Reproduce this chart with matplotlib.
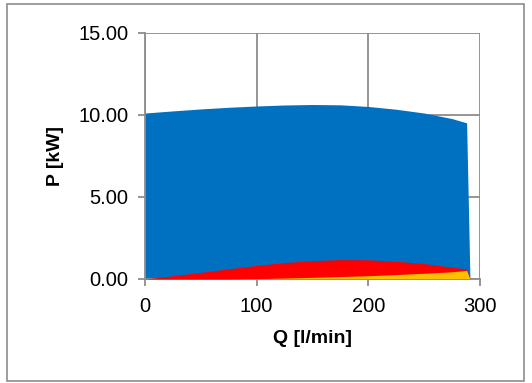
import matplotlib
matplotlib.use("Agg")
import matplotlib.pyplot as plt
from matplotlib.patches import Rectangle

plt.rcParams['font.family'] = ['Liberation Sans', 'DejaVu Sans']

q = [0, 25, 50, 75, 100, 125, 150, 175, 200, 225, 250, 275, 288, 291]
p_blue = [10.12, 10.25, 10.37, 10.47, 10.55, 10.61, 10.64, 10.62, 10.52, 10.35, 10.12, 9.78, 9.52, 0.0]
p_red = [0.0, 0.2, 0.4, 0.62, 0.83, 1.0, 1.12, 1.18, 1.17, 1.08, 0.94, 0.72, 0.61, 0.0]
p_yellow = [0.0, 0.0, 0.0, 0.0, 0.02, 0.06, 0.1, 0.15, 0.2, 0.27, 0.35, 0.44, 0.52, 0.0]

x_ticks = [0, 100, 200, 300]
y_ticks = [0, 5, 10, 15]
y_labels = ["0.00", "5.00", "10.00", "15.00"]

fig = plt.figure(figsize=(5.32, 3.83), dpi=100)
fig.patches.append(Rectangle((7/532, 2/383), 517/532, 377/383, transform=fig.transFigure,
                             fill=False, edgecolor='#8c8c8c', linewidth=1.2))
ax = fig.add_axes([145/532, 1 - 279/383, 335/532, 246/383])

grid_c = '#8c8c8c'
ax.fill_between(q, p_blue, 0, color='#0070C0', linewidth=0, zorder=2)
ax.fill_between(q, p_red, 0, color='#FF0000', linewidth=0, zorder=3)
ax.fill_between(q, p_yellow, 0, color='#FFC000', linewidth=0, zorder=4)

ax.set_xlim(0, 300)
ax.set_ylim(0, 15)
ax.set_xticks(x_ticks)
ax.set_yticks(y_ticks)
ax.set_yticklabels(y_labels)
ax.grid(True, color=grid_c, linewidth=1.3, zorder=1)
ax.set_axisbelow(True)
for s in ['top', 'right']:
    ax.spines[s].set_visible(False)
for s in ['left', 'bottom']:
    ax.spines[s].set_color(grid_c)
    ax.spines[s].set_linewidth(1.3)
ax.tick_params(axis='both', colors=grid_c, length=5, width=1.3, labelcolor='black', labelsize=14.5)
ax.tick_params(axis='x', pad=8)
ax.tick_params(axis='y', pad=7)
ax.set_xlabel('Q [l/min]', fontsize=14, fontweight='bold', labelpad=10)
ax.set_ylabel('P [kW]', fontsize=14, fontweight='bold', labelpad=10)

fig.savefig('out.png', dpi=100)
